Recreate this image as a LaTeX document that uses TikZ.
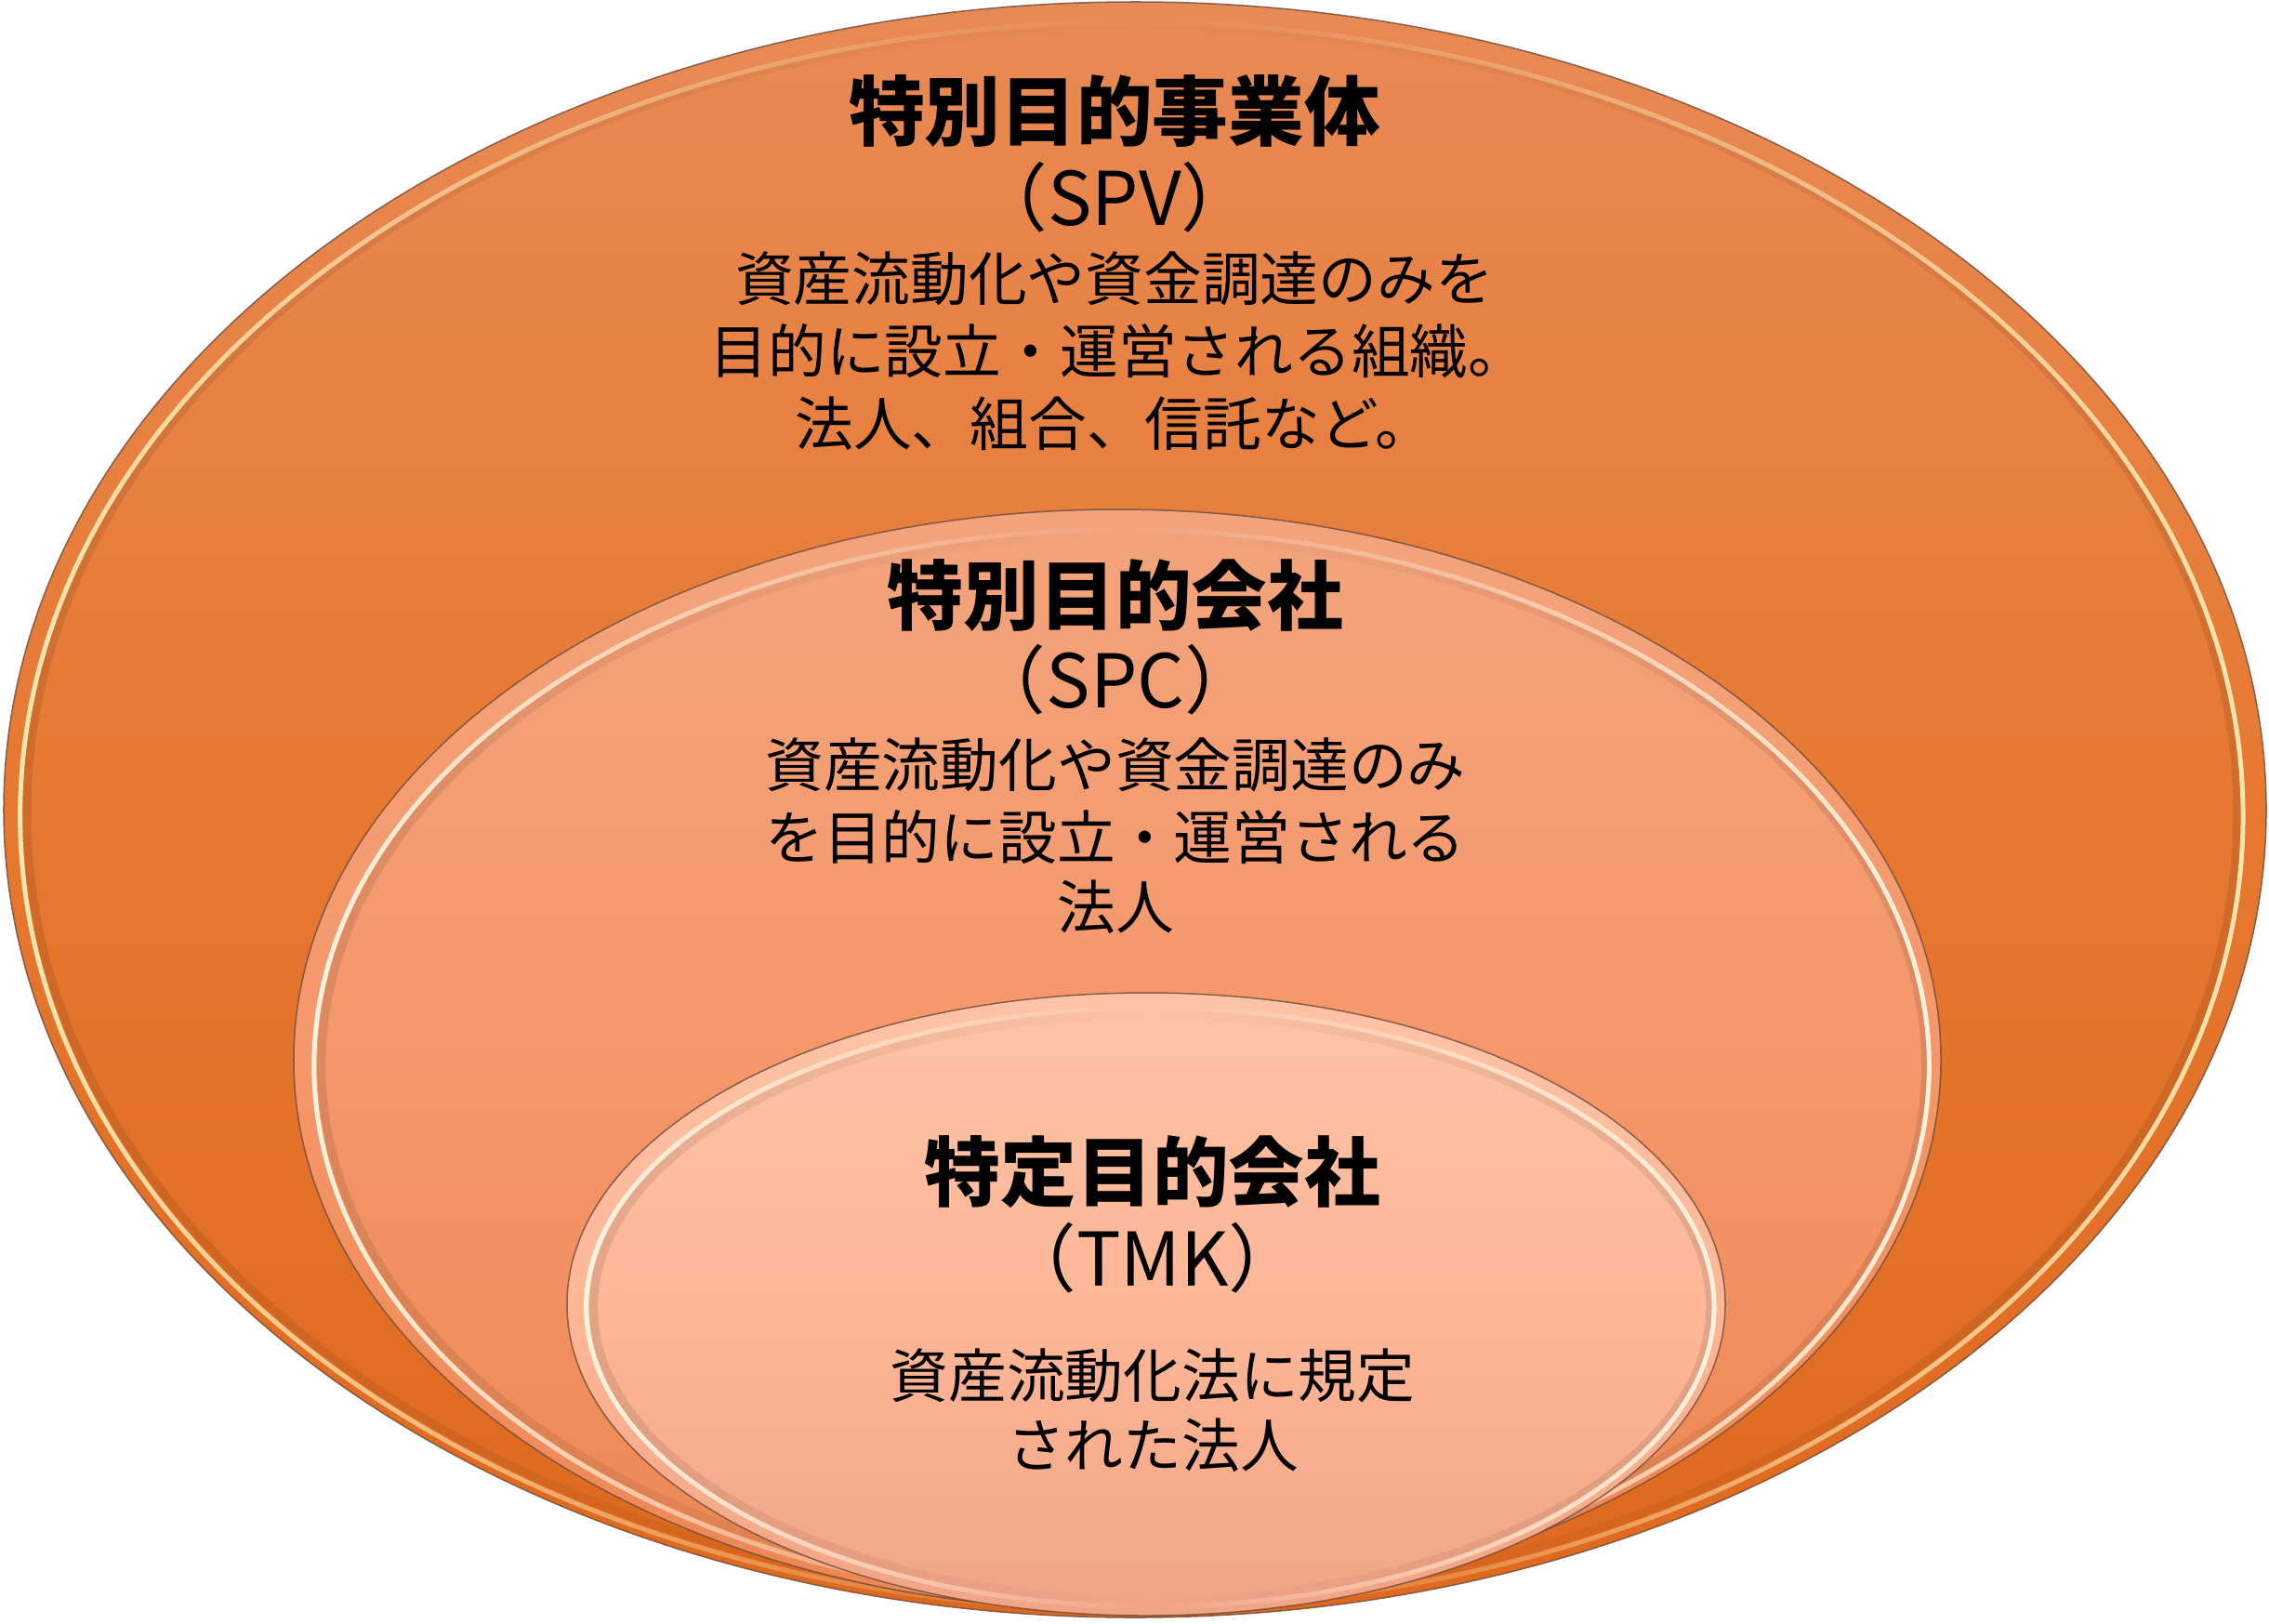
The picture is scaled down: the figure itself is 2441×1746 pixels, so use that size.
\documentclass[tikz,border=0pt]{standalone}
\usepackage{fontspec}
\setmainfont{Noto Sans CJK JP}
\usetikzlibrary{shapes.geometric,fadings}
\definecolor{outtop}{HTML}{E88A55}
\definecolor{outmid}{HTML}{E77830}
\definecolor{outbot}{HTML}{DE691E}
\definecolor{midtop}{HTML}{F3A47C}
\definecolor{midmid}{HTML}{F5976A}
\definecolor{midbot}{HTML}{EC8752}
\definecolor{inntop}{HTML}{FDC3A6}
\definecolor{innmid}{HTML}{FDB797}
\definecolor{innbot}{HTML}{F1A486}
\definecolor{rimline}{HTML}{6E4A38}
\definecolor{creamA}{HTML}{FFE8B0}
\definecolor{creamB}{HTML}{FFF4DE}
\tikzfading[name=sidefade, left color=transparent!0, right color=transparent!0, middle color=transparent!100]
\tikzset{
  disc/.style={ellipse, inner sep=0pt, draw=rimline, line width=1.5bp, draw opacity=0.8},
  glint/.style={line width=5bp, path fading=sidefade},
  innershadow/.style={line width=9bp, draw=black, draw opacity=0.10, path fading=sidefade},
  titletext/.style={anchor=base, inner sep=0pt, font=\fontsize{82}{96}\selectfont\bfseries, text=black},
  acrotext/.style={anchor=base, inner sep=0pt, font=\fontsize{80}{96}\selectfont, text=black},
  bodytext/.style={anchor=base, inner sep=0pt, font=\fontsize{63}{78}\selectfont, text=black}
}
\begin{document}
\begin{tikzpicture}[x=1bp,y=-1bp]
\useasboundingbox (0,0) rectangle (2441,1746);
\fill[white] (0,0) rectangle (2441,1746);

% outer ellipse: SPV
\node[disc, minimum width=2434bp, minimum height=1738bp, top color=outtop, bottom color=outbot, middle color=outmid] (spv) at (1221,871) {};
\draw[innershadow] (1228,875) ellipse [x radius=1194, y radius=848];
\draw[glint, draw=creamA] (1228,875) ellipse [x radius=1201, y radius=855];

% middle ellipse: SPC
\node[disc, minimum width=1772bp, minimum height=1184bp, top color=midtop, bottom color=midbot, middle color=midmid] (spc) at (1202,1140) {};
\draw[innershadow] (1209,1144) ellipse [x radius=863, y radius=571];
\draw[glint, draw=creamB] (1209,1144) ellipse [x radius=870, y radius=578];

% inner ellipse: TMK
\node[disc, minimum width=1246bp, minimum height=670bp, top color=inntop, bottom color=innbot, middle color=innmid] (tmk) at (1233,1403) {};
\draw[innershadow] (1240,1406) ellipse [x radius=601, y radius=315];
\draw[glint, draw=creamB] (1240,1406) ellipse [x radius=608, y radius=322];

% SPV texts
\node[titletext] (spvtitle) at (1199,150) {特別目的事業体};
\node[acrotext] (spvacro) at (1199,242) {（SPV）};
\node[bodytext] (spvl1) at (1199,323) {資産流動化や資金調達のみを};
\node[bodytext] (spvl2) at (1203,401) {目的に設立・運営される組織。};
\node[bodytext] (spvl3) at (1199,479) {法人、組合、信託など。};

% SPC texts
\node[titletext] (spctitle) at (1200,671) {特別目的会社};
\node[acrotext] (spcacro) at (1200,761) {（SPC）};
\node[bodytext] (spcl1) at (1200,846) {資産流動化や資金調達のみ};
\node[bodytext] (spcl2) at (1200,924) {を目的に設立・運営される};
\node[bodytext] (spcl3) at (1200,999) {法人};

% TMK texts
\node[titletext] (tmktitle) at (1240,1291) {特定目的会社};
\node[acrotext] (tmkacro) at (1240,1383) {（TMK）};
\node[bodytext] (tmkl1) at (1240,1503) {資産流動化法に規定};
\node[bodytext] (tmkl2) at (1240,1578) {された法人};
\end{tikzpicture}
\end{document}
